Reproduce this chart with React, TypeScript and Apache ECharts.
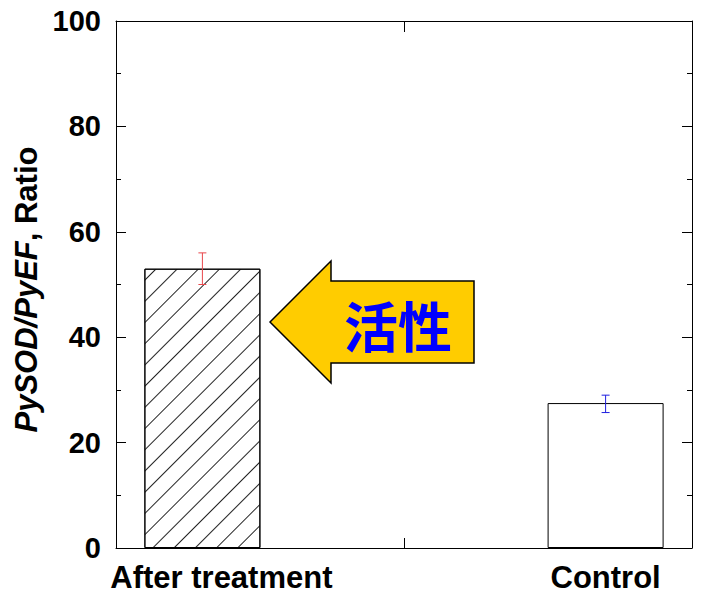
import React, { useEffect, useRef } from "react";
import * as echarts from "echarts";

const categories = ["After treatment", "Control"];
const xPositions = [0.6, 3.4];
const values = [53, 27.5];
const errLow = [50, 25.7];
const errHigh = [56, 29];
const errColors = ["#e8474c", "#1f1fe0"];
const yMin = 0;
const yMax = 100;
const yInterval = 20;
const annotationText = "活性";

const FONT = "'Liberation Sans', Arial, sans-serif";

export default function App() {
  const ref = useRef<HTMLDivElement>(null);
  useEffect(() => {
    if (!ref.current) return;
    const chart = echarts.init(ref.current, null, { renderer: "svg" });
    const axisLine = { show: true, onZero: false, lineStyle: { color: "#000", width: 1 } };
    const tickStyle = { color: "#000", width: 1 };
    const barData = xPositions.map((x, i) => ({
      value: [x, values[i]],
      itemStyle:
        i === 0
          ? {
              color: "#fff",
              borderColor: "#000",
              borderWidth: 1,
              decal: {
                symbol: "rect",
                symbolSize: 1,
                dashArrayX: [1, 0],
                dashArrayY: [1, 14],
                rotation: -Math.PI / 4,
                color: "#222",
                backgroundColor: "#fff",
              },
            }
          : { color: "#fff", borderColor: "#000", borderWidth: 1 },
    }));
    const errData = xPositions.map((x, i) => [x, errLow[i], errHigh[i]]);
    chart.setOption({
      animation: false,
      backgroundColor: "#fff",
      grid: { left: 116, right: 9, top: 21, bottom: 57, containLabel: false },
      xAxis: [
        {
          type: "value",
          min: 0,
          max: 4,
          position: "bottom",
          axisLine,
          splitLine: { show: false },
          axisTick: { show: true, inside: true, length: 10, customValues: [2], lineStyle: tickStyle },
          axisLabel: {
            show: true,
            customValues: xPositions,
            margin: 14,
            fontFamily: FONT,
            fontWeight: "bold",
            fontSize: 31,
            color: "#000",
            formatter: (v: number) => {
              const i = xPositions.findIndex((p) => Math.abs(p - v) < 1e-6);
              if (i < 0) return "";
              return i === 0 ? "{a|" + categories[i] + "}" : categories[i];
            },
            rich: {
              a: {
                fontFamily: FONT,
                fontWeight: "bold",
                fontSize: 31,
                color: "#000",
                padding: [0, 0, 0, 38],
              },
            },
          },
        },
        {
          type: "value",
          min: 0,
          max: 4,
          position: "top",
          axisLine,
          splitLine: { show: false },
          axisTick: { show: true, inside: true, length: 11, customValues: [2], lineStyle: tickStyle },
          axisLabel: { show: false },
        },
      ],
      yAxis: [
        {
          type: "value",
          min: yMin,
          max: yMax,
          interval: yInterval,
          position: "left",
          axisLine,
          splitLine: { show: false },
          axisTick: { show: true, inside: true, length: 10, lineStyle: tickStyle },
          minorTick: { show: true, splitNumber: 2, length: 5, lineStyle: tickStyle },
          axisLabel: {
            fontFamily: FONT,
            fontWeight: "bold",
            fontSize: 29,
            color: "#000",
            margin: 15,
            padding: [0, 0, 12, 0],
          },
          name: "{i|PySOD/PyEF}{n|, Ratio}",
          nameLocation: "middle",
          nameGap: 67,
          nameTextStyle: {
            rich: {
              i: { fontFamily: FONT, fontWeight: "bold", fontStyle: "italic", fontSize: 31, color: "#000" },
              n: { fontFamily: FONT, fontWeight: "bold", fontSize: 31, color: "#000", padding: [0, 10, 0, 0] },
            },
          },
        },
        {
          type: "value",
          min: yMin,
          max: yMax,
          interval: yInterval,
          position: "right",
          axisLine,
          splitLine: { show: false },
          axisTick: { show: true, inside: true, length: 10, lineStyle: tickStyle },
          minorTick: { show: true, splitNumber: 2, length: 5, lineStyle: tickStyle },
          axisLabel: { show: false },
        },
      ],
      series: [
        {
          type: "bar",
          xAxisIndex: 0,
          yAxisIndex: 0,
          barWidth: 116,
          data: barData,
          z: 2,
        },
        {
          type: "custom",
          xAxisIndex: 0,
          yAxisIndex: 0,
          z: 3,
          data: errData,
          renderItem: (params: any, api: any) => {
            const x = api.value(0);
            const lo = api.coord([x, api.value(1)]);
            const hi = api.coord([x, api.value(2)]);
            const hw = 4;
            const style = { stroke: errColors[params.dataIndex], lineWidth: 1 };
            return {
              type: "group",
              children: [
                { type: "line", shape: { x1: lo[0], y1: lo[1], x2: hi[0], y2: hi[1] }, style },
                { type: "line", shape: { x1: hi[0] - hw, y1: hi[1], x2: hi[0] + hw, y2: hi[1] }, style },
                { type: "line", shape: { x1: lo[0] - hw, y1: lo[1], x2: lo[0] + hw, y2: lo[1] }, style },
              ],
            };
          },
        },
      ],
      graphic: [
        {
          type: "polygon",
          z: 10,
          shape: {
            points: [
              [270, 322],
              [331, 261],
              [331, 281],
              [474, 281],
              [474, 363],
              [331, 363],
              [331, 383],
            ],
          },
          style: { fill: "#FFCC00", stroke: "#000", lineWidth: 1.5 },
        },
        {
          type: "text",
          z: 11,
          x: 398,
          y: 324,
          style: {
            text: annotationText,
            fill: "#0000FF",
            font: "bold 54px 'Noto Sans CJK JP'",
            align: "center",
            verticalAlign: "middle",
          },
        },
      ],
    });
    return () => chart.dispose();
  }, []);
  return <div ref={ref} style={{ width: 701, height: 605, position: "absolute", left: 0, top: 0 }} />;
}
